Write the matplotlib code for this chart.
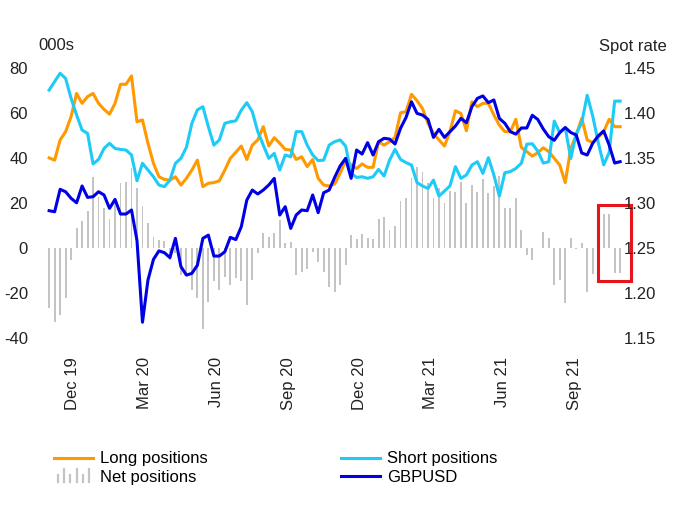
import matplotlib
matplotlib.use("Agg")
import matplotlib.pyplot as plt
import pandas as pd
from matplotlib.legend_handler import HandlerBase
from matplotlib.lines import Line2D
from matplotlib.patches import Rectangle

plt.rcParams["font.family"] = ["Liberation Sans", "DejaVu Sans"]
plt.rcParams["axes.unicode_minus"] = False

# weekly positioning, '000s of contracts
long_pos = [
    40, 39, 48, 51.7, 58.4, 68.7, 64.3, 67.3, 68.7, 64.3, 61.6, 59.5, 64.3, 72.8, 72.8, 76.5, 56.1,
    56.9, 46.5, 37.6, 31.6, 30.4, 30.1, 31.6, 27.9, 30.9, 34.6, 39, 27.2, 28.7, 29, 29.8, 34.6, 39.8, 42.5,
    45.3, 39.3, 45.7, 48, 53.9, 45.3, 49, 46.5, 43.8, 43.5, 39.3, 40.5, 36.1, 39.3, 30.9, 27.9, 27.5,
    28.4, 33.1, 39, 36.8, 35.3, 37.3, 35.8, 35.8, 47.2, 45.7, 47.2, 49.1, 60.1, 60.6, 68.3, 65.5, 62, 55.4,
    50.9, 48, 45.3, 51.7, 61, 59.8, 52.1, 65, 62.8, 64.3, 64.3, 59.1, 54.6, 51.7, 51.7, 57.2, 44.7,
    42.8, 40.8, 42.3, 44.5, 42.8, 39.8, 36.8, 29, 44.2, 50.2, 57.6, 48, 46.8, 49.1, 51.7, 57.2, 53.9, 53.9,
]
short_pos = [
    70.2, 74, 77.7, 75.4, 66.5, 59.1, 52.4, 50.9, 37.3, 39.3, 44.2, 46.5, 44.2, 43.8, 43.5, 41.3, 29.8,
    37.6, 34.6, 31.6, 27.9, 27.2, 30.1, 37.6, 39.8, 44.7, 55.4, 61.4, 62.8, 53.9, 45.7, 48, 55.4, 56.1, 56.5,
    61.3, 64.6, 60.6, 51.7, 45.7, 39.8, 42, 34.6, 41.3, 40.5, 51.7, 51.7, 45.7, 41.3, 38.8, 39, 45.7,
    47.2, 48, 45.3, 33.1, 31.3, 31.6, 30.9, 31.6, 34.9, 31.9, 39, 43.8, 39.3, 37.9, 36.8, 29, 27.5, 26.4,
    30.1, 23, 25.2, 27.5, 36.1, 30.9, 32.4, 36.8, 38.3, 33.1, 40.1, 32.4, 23, 33.4, 33.9, 35.3, 37.6,
    46.1, 46.3, 43, 37.7, 38.3, 56.4, 51.2, 53.5, 39.7, 50.7, 55.7, 67.9, 58.7, 47, 36.9, 42.4, 65.3, 65.3,
]
net_pos = [
    -27, -33, -30, -22.5, -5.5, 8.6, 12, 16.3, 31.6, 22.7, 17.5, 12.6, 21, 29, 29.4, 35.3, 26.4,
    18.5, 11, 4.9, 3.5, 2.8, -5.5, -2.5, -12, -11.4, -18.8, -22.5, -36, -24, -15, -18.8, -13, -16.6, -13.7,
    -15, -25.5, -14.5, -2.5, 6.7, 4.9, 6.4, 12.3, 2.2, 2.7, -12, -11, -9.6, -1.8, -6.2, -11, -17.4,
    -19.6, -16.6, -7.7, 5.6, 3.9, 6.1, 4.5, 3.7, 12.8, 13.8, 7.9, 9.6, 20.9, 22, 30.9, 36, 33.8, 28.6,
    22, 26.4, 19.7, 25.2, 24.9, 29.4, 19.7, 27.9, 24.6, 30.6, 24.2, 27.4, 32, 17.9, 17.5, 22, 7.9,
    -3.3, -5.5, 0, 6.8, 4.5, -16.6, -14.4, -24.5, 4.5, -0.5, 1.9, -19.9, -11.9, 0, 14.8, 14.8, -11.4, -11.4,
]
gbpusd = [
    1.2912, 1.290, 1.315, 1.3123, 1.305, 1.300, 1.3187, 1.306, 1.3068, 1.3123, 1.3087, 1.2938, 1.3038,
    1.2875, 1.2875, 1.292, 1.258,
    1.167, 1.214, 1.237, 1.2465, 1.2444, 1.239, 1.2604, 1.229, 1.2195, 1.2214, 1.2305, 1.2604, 1.264,
    1.2407, 1.2407, 1.2455, 1.2615, 1.259,
    1.2734, 1.303, 1.3142, 1.3098, 1.3142, 1.3198, 1.3272, 1.2864, 1.2957, 1.2715, 1.2864, 1.292, 1.2912,
    1.3087, 1.289, 1.3112, 1.3142,
    1.3283, 1.341, 1.3495, 1.3272, 1.3588, 1.3543, 1.367, 1.3532, 1.368, 1.3718, 1.371, 1.3655, 1.383,
    1.395, 1.4125, 1.3996, 1.3977, 1.393,
    1.3728, 1.3818, 1.3728, 1.3792, 1.3855, 1.394, 1.3892, 1.407, 1.4163, 1.419, 1.4115, 1.4145, 1.394,
    1.3885, 1.3792, 1.3765, 1.3833,
    1.3833, 1.3975, 1.3928, 1.3822, 1.3736, 1.3696, 1.3783, 1.3838, 1.3783, 1.3755, 1.3555, 1.3532,
    1.3663, 1.3744, 1.38, 1.3643, 1.3443, 1.3458,
]
first_week = "2019-11-01"
tick_dates = ["2019-12-01", "2020-03-01", "2020-06-01", "2020-09-01",
              "2020-12-01", "2021-03-01", "2021-06-01", "2021-09-01"]
tick_labels = ["Dec 19", "Mar 20", "Jun 20", "Sep 20", "Dec 20", "Mar 21", "Jun 21", "Sep 21"]

weeks = pd.date_range(first_week, periods=len(long_pos), freq="7D")

ORANGE = "#ff9900"
CYAN = "#1ecbf7"
BLUE = "#0000e6"
GREY = "#c4c4c4"


class NetHandler(HandlerBase):
    """Small comb of grey bars for the legend."""

    def create_artists(self, legend, orig_handle, xdescent, ydescent, width, height, fontsize, trans):
        arts = []
        hs = [0.55, 1.0, 0.55, 1.0, 0.55, 1.0]
        for k, h in enumerate(hs):
            x = -xdescent + width * (k + 0.5) / len(hs)
            arts.append(Line2D([x, x], [-ydescent, -ydescent + h * height * 1.1],
                               color=GREY, lw=1.6, transform=trans))
        return arts


fig = plt.figure(figsize=(6.79, 5.09), dpi=100)
ax = fig.add_axes([46 / 679, 1 - 337.5 / 509, 576.5 / 679, 269.4 / 509])

ax.bar(weeks, net_pos, width=2.4, color=GREY, zorder=1)
l1, = ax.plot(weeks, long_pos, color=ORANGE, lw=2.2, zorder=2)
l2, = ax.plot(weeks, short_pos, color=CYAN, lw=2.2, zorder=3)
ax.set_ylim(-40, 80)
ax.set_yticks(range(-40, 81, 20))
ax.set_xlim(weeks[0] - pd.Timedelta(days=4), weeks[-1] + pd.Timedelta(days=3))
ax.set_xticks(pd.to_datetime(tick_dates))
ax.set_xticklabels(tick_labels, rotation=90)

ax2 = ax.twinx()
l3, = ax2.plot(weeks, gbpusd, color=BLUE, lw=2.2)
ax2.set_ylim(1.15, 1.45)
ax2.set_yticks([1.15, 1.20, 1.25, 1.30, 1.35, 1.40, 1.45])
ax2.set_yticklabels([f"{v:.2f}" for v in [1.15, 1.20, 1.25, 1.30, 1.35, 1.40, 1.45]])

for a in (ax, ax2):
    for s in a.spines.values():
        s.set_visible(False)
    a.tick_params(length=0, labelsize=12, colors="#222222")
ax.tick_params(axis="y", pad=13)
ax.tick_params(axis="x", pad=14)
ax2.tick_params(axis="y", pad=1)

# highlight box around latest weeks
ax.add_patch(Rectangle((0.958, 0.208), 0.0575, 0.284, transform=ax.transAxes,
                       fill=False, ec="#e8141c", lw=2.2, clip_on=False, zorder=5))

fig.text(38 / 679, 1 - 46 / 509, "000s", fontsize=12, va="center", ha="left", color="#222222")
fig.text(667 / 679, 1 - 46 / 509, "Spot rate", fontsize=12, va="center", ha="right", color="#222222")

net_handle = Rectangle((0, 0), 1, 1, color=GREY)
fig.legend([l1, net_handle, l2, l3],
           ["Long positions", "Net positions", "Short positions", "GBPUSD"],
           ncol=2, loc="upper left", bbox_to_anchor=(46 / 679, 1 - 443 / 509),
           frameon=False, fontsize=12, handlelength=2.3, handletextpad=0.45,
           columnspacing=8.0, labelspacing=0.2, borderpad=0,
           handler_map={Rectangle: NetHandler()})

fig.savefig("out.png", dpi=100)
